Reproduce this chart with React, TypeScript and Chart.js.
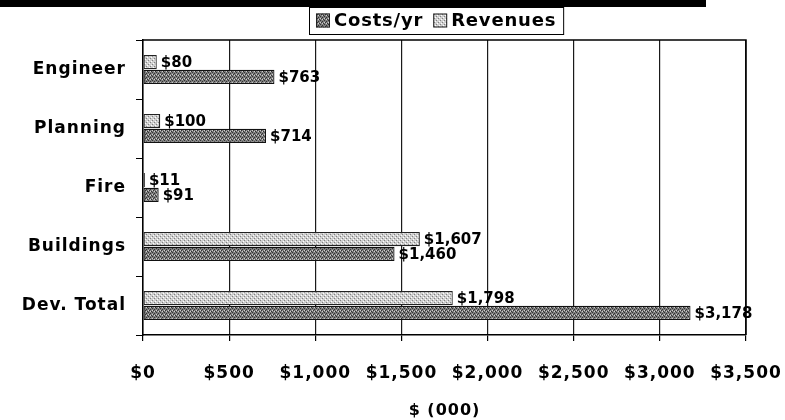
import React, { useEffect, useRef } from "react";
import { Chart, registerables } from "chart.js";

Chart.register(...registerables);

const categories = ["Engineer", "Planning", "Fire", "Buildings", "Dev. Total"];
const revenues = [80, 100, 11, 1607, 1798];
const costs = [763, 714, 91, 1460, 3178];
const xTickValues = [0, 500, 1000, 1500, 2000, 2500, 3000, 3500];
const legendNames = ["Costs/yr", "Revenues"];
const axisTitle = "$ (000)";

const FONT = "'DejaVu Sans', 'Liberation Sans', Arial, sans-serif";

function makePattern(base: string, darkPx: number[][], dark: string, lightPx: number[][], light: string) {
  const c = document.createElement("canvas");
  c.width = 4;
  c.height = 4;
  const g = c.getContext("2d")!;
  g.fillStyle = base;
  g.fillRect(0, 0, 4, 4);
  g.fillStyle = dark;
  darkPx.forEach(([x, y]) => g.fillRect(x, y, 1, 1));
  g.fillStyle = light;
  lightPx.forEach(([x, y]) => g.fillRect(x, y, 1, 1));
  const ctx = document.createElement("canvas").getContext("2d")!;
  return ctx.createPattern(c, "repeat")!;
}

const fmt = (v: number) => "$" + v.toLocaleString("en-US");

export default function App() {
  const ref = useRef<HTMLCanvasElement>(null);

  useEffect(() => {
    if (!ref.current) return;
    const darkPat = makePattern("#7e7e7e", [[0, 0], [2, 1], [1, 2], [3, 3]], "#333333", [[2, 3], [0, 2]], "#d0d0d0");
    const lightPat = makePattern("#cfcfcf", [[0, 0], [2, 2]], "#828282", [[1, 3], [3, 1]], "#ffffff");

    const valueLabels = {
      id: "valueLabels",
      afterDatasetsDraw(chart: any) {
        const ctx = chart.ctx;
        ctx.save();
        (ctx as any).letterSpacing = "0px";
        ctx.font = `bold 15px ${FONT}`;
        ctx.fillStyle = "#000";
        ctx.textBaseline = "middle";
        ctx.textAlign = "left";
        chart.data.datasets.forEach((ds: any, i: number) => {
          const meta = chart.getDatasetMeta(i);
          meta.data.forEach((el: any, j: number) => {
            ctx.fillText(fmt(ds.data[j]), el.x + 4, el.y + 1);
          });
        });
        ctx.restore();
      },
    };

    const frame = {
      id: "frame",
      beforeDraw(chart: any) {
        const ctx = chart.ctx;
        (ctx as any).letterSpacing = "1px";
        ctx.save();
        ctx.fillStyle = "#fff";
        ctx.fillRect(0, 0, chart.width, chart.height);
        ctx.fillStyle = "#000";
        ctx.fillRect(0, 0, 706, 7);
        ctx.restore();
      },
      afterDraw(chart: any) {
        const ctx = chart.ctx;
        const a = chart.chartArea;
        ctx.save();
        ctx.strokeStyle = "#000";
        ctx.lineWidth = 1.5;
        ctx.beginPath();
        ctx.moveTo(a.left, a.top);
        ctx.lineTo(a.right, a.top);
        ctx.lineTo(a.right, a.bottom);
        ctx.stroke();
        // legend
        (ctx as any).letterSpacing = "0.8px";
        ctx.font = `bold 18px ${FONT}`;
        ctx.textBaseline = "middle";
        const sw = 14;
        const gap1 = 4;
        const gap2 = 10;
        const w0 = ctx.measureText(legendNames[0]).width;
        const w1 = ctx.measureText(legendNames[1]).width;
        const inner = sw + gap1 + w0 + gap2 + sw + gap1 + w1;
        const padX = 7;
        const boxW = inner + padX * 2;
        const cx = 436;
        const bx = Math.round(cx - boxW / 2);
        const by = 7;
        const bh = 27;
        ctx.fillStyle = "#fff";
        ctx.fillRect(bx, by, boxW, bh);
        ctx.strokeStyle = "#000";
        ctx.lineWidth = 1;
        ctx.strokeRect(bx + 0.5, by + 0.5, boxW, bh);
        const my = by + bh / 2;
        let x = bx + padX;
        const pats = [darkPat, lightPat];
        for (let i = 0; i < 2; i++) {
          ctx.fillStyle = pats[i];
          ctx.fillRect(x, my - sw / 2, sw, sw);
          ctx.strokeStyle = "#222";
          ctx.strokeRect(x + 0.5, my - sw / 2 + 0.5, sw - 1, sw - 1);
          x += sw + gap1;
          ctx.fillStyle = "#000";
          ctx.fillText(legendNames[i], x, my + 1);
          x += (i === 0 ? w0 : w1) + gap2;
        }
        ctx.restore();
      },
    };

    const chart = new Chart(ref.current, {
      type: "bar",
      data: {
        labels: categories,
        datasets: [
          {
            label: legendNames[1],
            data: revenues,
            backgroundColor: lightPat as any,
            borderColor: "#222",
            borderWidth: 1.2,
            borderSkipped: false,
          },
          {
            label: legendNames[0],
            data: costs,
            backgroundColor: darkPat as any,
            borderColor: "#111",
            borderWidth: 1.2,
            borderSkipped: false,
          },
        ],
      },
      options: {
        indexAxis: "y",
        responsive: false,
        animation: false,
        devicePixelRatio: 1,
        layout: { padding: { top: 40, right: 39, left: 0, bottom: 0 } },
        datasets: { bar: { categoryPercentage: 0.5, barPercentage: 0.96 } },
        plugins: {
          legend: { display: false },
          tooltip: { enabled: false },
        },
        scales: {
          x: {
            type: "linear",
            min: 0,
            max: 3500,
            afterBuildTicks(scale: any) {
              scale.ticks = xTickValues.map((v) => ({ value: v }));
            },
            afterFit(scale: any) {
              scale.height = 85;
              scale.paddingLeft = 0;
              scale.paddingRight = 0;
            },
            ticks: {
              callback: (v: any) => fmt(Number(v)),
              color: "#000",
              font: { family: FONT, size: 17, weight: "bold" },
              padding: 22,
              maxRotation: 0,
              autoSkip: false,
            },
            grid: { color: "#1a1a1a", lineWidth: 1.2, tickLength: 6, tickColor: "#000" },
            border: { color: "#000", width: 1.5 },
            title: {
              display: true,
              text: axisTitle,
              color: "#000",
              font: { family: FONT, size: 16, weight: "bold" },
              padding: { top: 0, bottom: 0 },
            },
          },
          y: {
            type: "category",
            offset: true,
            afterFit(scale: any) {
              scale.width = 143;
            },
            ticks: {
              color: "#000",
              font: { family: FONT, size: 17, weight: "bold" },
              padding: 10,
            },
            grid: { offset: true, drawOnChartArea: false, drawTicks: true, tickLength: 7, color: "#000" },
            border: { color: "#000", width: 1.5 },
          },
        },
      },
      plugins: [frame, valueLabels],
    });
    return () => chart.destroy();
  }, []);

  return (
    <div style={{ position: "absolute", left: 0, top: 0, width: 785, height: 420, background: "#fff" }}>
      <canvas ref={ref} width={785} height={420} style={{ width: 785, height: 420, display: "block" }} />
    </div>
  );
}
